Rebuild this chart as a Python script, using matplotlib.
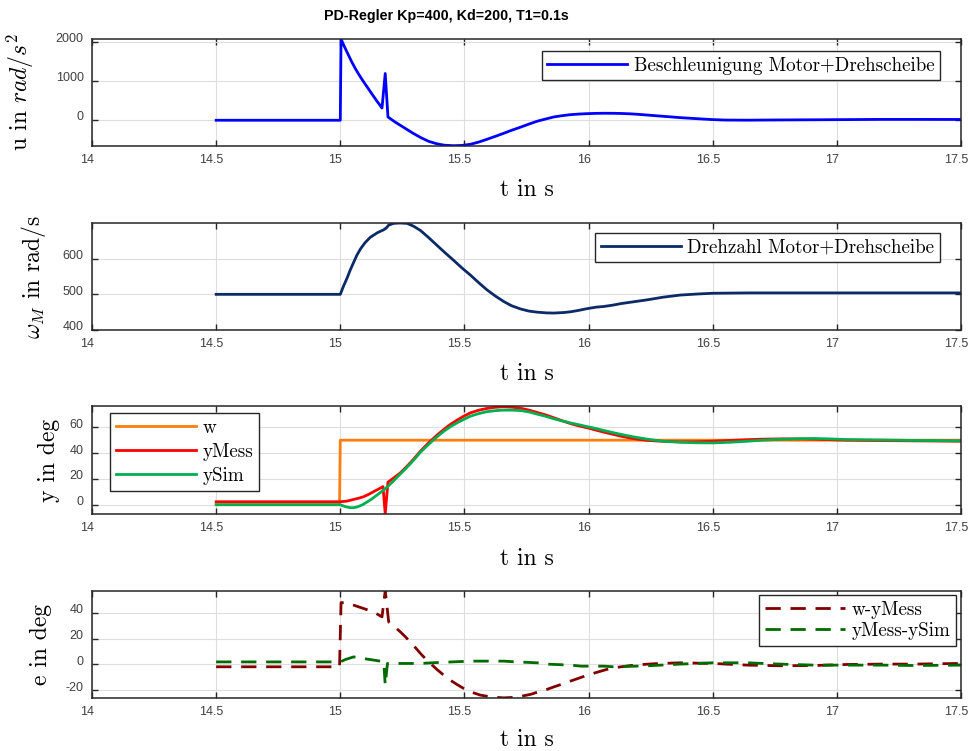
import matplotlib
matplotlib.use("Agg")
import matplotlib.pyplot as plt
from matplotlib.ticker import FixedLocator, FormatStrFormatter
from matplotlib.transforms import ScaledTranslation

plt.rcParams["mathtext.fontset"] = "cm"
plt.rcParams["axes.unicode_minus"] = False

# ---------------- measured signals ----------------
# motor + turntable acceleration u in rad/s^2
t_u = [14.50, 15.000, 15.003, 15.015, 15.030, 15.045, 15.060, 15.075, 15.090, 15.105,
       15.120, 15.135, 15.150, 15.168, 15.181, 15.192, 15.220, 15.255, 15.290, 15.323,
       15.356, 15.390, 15.420, 15.457, 15.490, 15.524, 15.557, 15.590, 15.625, 15.657,
       15.690, 15.726, 15.760, 15.793, 15.827, 15.860, 15.893, 15.927, 15.960, 15.995,
       16.030, 16.060, 16.100, 16.130, 16.170, 16.210, 16.240, 16.300, 16.370, 16.440,
       16.500, 16.550, 16.640, 16.750, 16.910, 17.050, 17.180, 17.300, 17.500]
u = [-17, -17, 2075, 1900, 1700, 1500, 1320, 1160, 1010, 870,
     730, 590, 455, 297, 1187, 68, -60, -200, -340, -460,
     -560, -625, -660, -672, -665, -636, -580, -509, -430, -356,
     -275, -195, -115, -42, 15, 68, 100, 127, 142, 153,
     160, 163, 162, 158, 148, 130, 115, 85, 50, 22,
     0, -12, -15, -10, -5, 0, 5, 5, 3]

# motor + turntable speed omega_M in rad/s
t_omega = [14.50, 15.000, 15.013, 15.027, 15.040, 15.054, 15.067, 15.081, 15.100, 15.121,
           15.150, 15.175, 15.185, 15.195, 15.215, 15.240, 15.269, 15.295, 15.323, 15.356,
           15.390, 15.423, 15.457, 15.490, 15.524, 15.557, 15.590, 15.625, 15.658, 15.690,
           15.726, 15.760, 15.793, 15.830, 15.860, 15.900, 15.927, 15.960, 15.995, 16.030,
           16.062, 16.100, 16.130, 16.180, 16.240, 16.300, 16.370, 16.440, 16.500, 16.640,
           17.500]
omega = [500, 500, 523, 545, 568, 590, 610, 627, 645, 660,
         673, 681, 686, 694, 699, 700, 699, 691, 679, 659,
         637, 616, 595, 574, 554, 533, 513, 495, 480, 468,
         459, 453, 450, 448, 447.5, 449, 451, 455, 460, 464,
         466, 470, 474, 479, 485, 492, 498, 501, 503, 504,
         504]

# reference w in deg
t_w = [14.50, 14.997, 15.000, 17.50]
w = [0, 0, 50, 50]

# measured angle yMess in deg
t_ymess = [14.50, 15.000, 15.027, 15.054, 15.074, 15.094, 15.114, 15.134, 15.153, 15.172,
           15.181, 15.192, 15.217, 15.242, 15.262, 15.282, 15.303, 15.323, 15.343, 15.363,
           15.390, 15.417, 15.443, 15.470, 15.497, 15.524, 15.557, 15.590, 15.624, 15.658,
           15.690, 15.726, 15.760, 15.793, 15.827, 15.860, 15.893, 15.927, 15.960, 15.995,
           16.030, 16.062, 16.100, 16.130, 16.170, 16.210, 16.240, 16.300, 16.370, 16.430,
           16.500, 16.570, 16.640, 16.700, 16.770, 16.840, 16.910, 16.970, 17.040, 17.180,
           17.500]
ymess = [2.3, 2.3, 2.8, 4.1, 5.0, 6.2, 8.0, 10.1, 12.0, 14.0,
         -7.2, 17.5, 21.0, 24.7, 28.5, 32.5, 37.0, 41.5, 45.5, 49.2,
         54.0, 58.3, 62.2, 65.5, 68.6, 71.2, 73.2, 74.6, 75.5, 75.9,
         75.6, 74.8, 73.3, 71.5, 69.6, 67.4, 65.1, 62.9, 61.1, 59.6,
         57.8, 56.2, 54.5, 53.1, 51.6, 50.4, 49.8, 49.1, 48.7, 48.8,
         49.2, 49.8, 50.4, 50.8, 51.0, 51.0, 50.8, 50.4, 50.0, 49.7,
         49.2]

# simulated angle ySim in deg
t_ysim = [14.50, 15.000, 15.020, 15.040, 15.054, 15.067, 15.087, 15.107, 15.128, 15.148,
          15.168, 15.188, 15.215, 15.242, 15.262, 15.282, 15.303, 15.323, 15.343, 15.363,
          15.390, 15.417, 15.443, 15.470, 15.497, 15.524, 15.557, 15.590, 15.624, 15.658,
          15.690, 15.726, 15.760, 15.793, 15.827, 15.860, 15.893, 15.927, 15.960, 15.995,
          16.030, 16.062, 16.100, 16.130, 16.180, 16.240, 16.300, 16.370, 16.430, 16.500,
          16.570, 16.640, 16.700, 16.770, 16.840, 16.910, 16.970, 17.040, 17.180, 17.310,
          17.500]
ysim = [0.0, 0.0, -1.5, -2.3, -2.3, -1.8, -0.3, 2.0, 4.6, 7.5,
        10.4, 13.5, 18.5, 23.9, 27.7, 31.7, 36.2, 40.7, 44.5, 48.0,
        52.7, 56.9, 60.4, 63.4, 66.1, 68.6, 70.6, 72.1, 72.9, 73.3,
        73.3, 73.0, 71.9, 70.2, 68.5, 66.6, 65.0, 63.4, 62.0, 60.5,
        59.0, 57.5, 55.8, 54.5, 52.6, 50.7, 49.2, 48.4, 48.0, 47.9,
        48.4, 49.2, 50.0, 50.7, 51.1, 51.3, 51.0, 50.5, 50.2, 49.8,
        49.5]

# control error w-yMess in deg
t_e1 = [14.50, 14.997, 15.003, 15.030, 15.054, 15.094, 15.134, 15.168, 15.181, 15.195,
        15.220, 15.242, 15.262, 15.282, 15.303, 15.323, 15.343, 15.363, 15.390, 15.417,
        15.443, 15.470, 15.497, 15.524, 15.565, 15.590, 15.630, 15.658, 15.700, 15.726,
        15.770, 15.793, 15.830, 15.860, 15.900, 15.927, 15.970, 16.000, 16.040, 16.070,
        16.100, 16.170, 16.240, 16.300, 16.370, 16.500, 16.640, 16.770, 16.910, 17.040,
        17.180, 17.310, 17.500]
e1 = [-1.8, -1.8, 48.0, 47.6, 46.0, 43.4, 40.8, 36.9, 57.2, 33.0,
      29.0, 25.3, 21.5, 17.5, 13.0, 8.5, 4.5, 0.8, -4.0, -8.3,
      -12.2, -15.5, -18.6, -21.2, -23.8, -24.6, -25.5, -25.9, -25.5, -24.8,
      -23.0, -21.5, -19.5, -17.4, -14.8, -12.9, -10.0, -8.0, -5.7, -4.0,
      -2.6, -0.8, 0.3, 0.9, 1.3, 0.8, -0.5, -1.0, -0.8, 0.0,
      0.3, 0.3, 0.8]

# model deviation yMess-ySim in deg
t_e2 = [14.50, 15.000, 15.020, 15.054, 15.094, 15.161, 15.175, 15.181, 15.190, 15.255,
        15.323, 15.390, 15.524, 15.565, 15.658, 15.700, 15.793, 15.830, 15.927, 15.970,
        16.062, 16.100, 16.240, 16.370, 16.500, 16.640, 16.770, 16.910, 17.040, 17.180,
        17.310, 17.500]
e2 = [2.0, 2.0, 3.8, 5.9, 4.6, 2.6, 2.0, -16.0, 0.8, 0.8,
      0.8, 1.5, 2.6, 2.6, 2.6, 2.1, 1.3, 0.3, -0.5, -1.3,
      -1.3, -1.8, -1.0, 0.3, 1.3, 1.3, 0.3, -0.5, -0.5, -0.5,
      -0.8, -0.5]

x_ticks = [14, 14.5, 15, 15.5, 16, 16.5, 17, 17.5]

# ---------------- figure ----------------
W, H = 968, 751
fig = plt.figure(figsize=(W / 100, H / 100), dpi=100)

def axes_px(top, bottom, left=92, right=961):
    return fig.add_axes([left / W, 1 - bottom / H, (right - left) / W, (bottom - top) / H])

TICK_FAMILY = "Liberation Sans"
TICK_SIZE = 9
SERIF = "cmr10"
LABEL_SIZE = 17
LEG_SIZE = 13.7
LW = 2.0
X_SHIFT = ScaledTranslation(-5 / 100, 0, fig.dpi_scale_trans)
Y_SHIFT = ScaledTranslation(0, 4 / 100, fig.dpi_scale_trans)

def style(ax, ylim, yticks, xlabel_y=-0.31):
    ax.set_xlim(14, 17.5)
    ax.set_ylim(*ylim)
    ax.xaxis.set_major_locator(FixedLocator(x_ticks))
    ax.yaxis.set_major_locator(FixedLocator(yticks))
    ax.xaxis.set_major_formatter(FormatStrFormatter("%g"))
    ax.yaxis.set_major_formatter(FormatStrFormatter("%g"))
    ax.grid(True, color="#dedede", linewidth=0.8)
    ax.set_axisbelow(True)
    for sp in ax.spines.values():
        sp.set_color("#262626")
        sp.set_linewidth(1.1)
    ax.tick_params(direction="in", length=4, width=1.0, color="#262626",
                   top=True, right=True, labelcolor="#404040")
    ax.tick_params(axis="x", pad=6)
    ax.tick_params(axis="y", pad=6)
    for lab in ax.get_xticklabels():
        lab.set_fontfamily(TICK_FAMILY)
        lab.set_fontsize(TICK_SIZE)
        lab.set_transform(lab.get_transform() + X_SHIFT)
    for lab in ax.get_yticklabels():
        lab.set_fontfamily(TICK_FAMILY)
        lab.set_fontsize(TICK_SIZE)
        lab.set_transform(lab.get_transform() + Y_SHIFT)
    ax.set_xlabel("t in s", fontfamily=SERIF, fontsize=LABEL_SIZE)
    ax.xaxis.set_label_coords(0.5, xlabel_y)

def legend(ax, loc, anchor, spacing=0.25):
    leg = ax.legend(loc=loc, bbox_to_anchor=anchor, borderaxespad=0,
                    prop=dict(family=SERIF, size=LEG_SIZE), handlelength=4.2,
                    handletextpad=0.35, labelspacing=spacing, borderpad=0.3,
                    fancybox=False, framealpha=1, edgecolor="#262626")
    leg.get_frame().set_linewidth(1.0)
    return leg

# --- acceleration ---
ax1 = axes_px(39, 146)
ax1.plot(t_u, u, color="#0000ff", lw=LW, label="Beschleunigung Motor+Drehscheibe")
style(ax1, (-680, 2075), [0, 1000, 2000])
ax1.set_ylabel(r"u in $rad/s^2$", fontfamily=SERIF, fontsize=LABEL_SIZE)
ax1.yaxis.set_label_coords(-0.064, 0.5)
legend(ax1, "upper right", (0.976, 0.888))

# --- speed ---
ax2 = axes_px(223, 330)
ax2.plot(t_omega, omega, color="#0b2a66", lw=LW, label="Drehzahl Motor+Drehscheibe")
style(ax2, (400, 700), [400, 500, 600])
ax2.set_ylabel(r"$\omega_M$ in rad/s", fontfamily=SERIF, fontsize=LABEL_SIZE)
ax2.yaxis.set_label_coords(-0.051, 0.5)
legend(ax2, "upper right", (0.976, 0.907))

# --- angle ---
ax3 = axes_px(406, 514)
ax3.plot(t_w, w, color="#ff7f0e", lw=LW, label="w")
ax3.plot(t_ymess, ymess, color="#ff0000", lw=LW, label="yMess")
ax3.plot(t_ysim, ysim, color="#00b050", lw=LW, label="ySim")
style(ax3, (-7.2, 76.5), [0, 20, 40, 60])
ax3.set_ylabel("y in deg", fontfamily=SERIF, fontsize=LABEL_SIZE)
ax3.yaxis.set_label_coords(-0.037, 0.5)
legend(ax3, "upper left", (0.0207, 0.935), spacing=0.32)

# --- errors ---
ax4 = axes_px(591, 698)
ax4.plot(t_e1, e1, color="#800000", lw=LW, ls=(0, (5.5, 3.5)), label="w-yMess")
ax4.plot(t_e2, e2, color="#006b00", lw=LW, ls=(0, (5.5, 3.5)), label="yMess-ySim")
style(ax4, (-26, 57), [-20, 0, 20, 40], xlabel_y=-0.29)
ax4.set_ylabel("e in deg", fontfamily=SERIF, fontsize=LABEL_SIZE)
ax4.yaxis.set_label_coords(-0.046, 0.5)
legend(ax4, "upper right", (0.9942, 0.963), spacing=0.18)

fig.text(446 / W, 1 - 16 / H, "PD-Regler Kp=400, Kd=200, T1=0.1s", ha="center", va="center",
         fontfamily="Liberation Sans", fontweight="bold", fontsize=10.3)

fig.savefig("out.png", dpi=100)
